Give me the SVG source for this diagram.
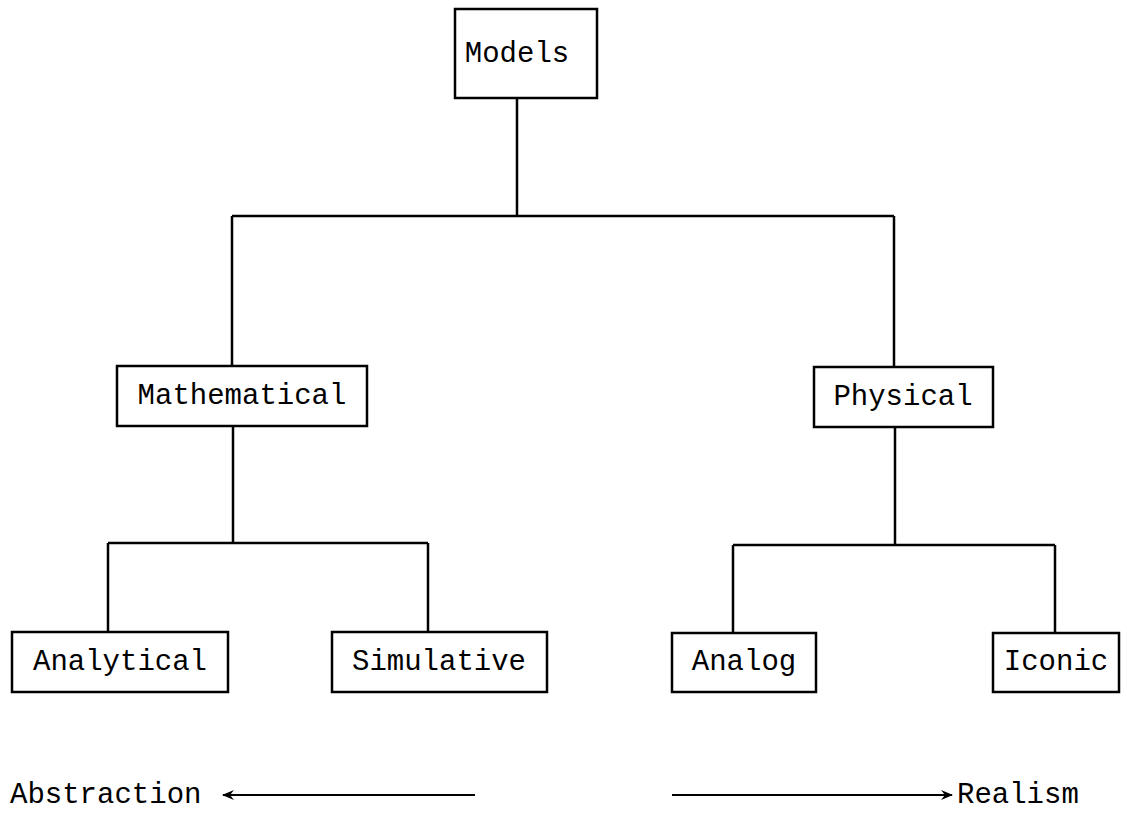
<svg xmlns="http://www.w3.org/2000/svg" width="1127" height="814" viewBox="0 0 1127 814">
<defs>
<style>
.box{fill:#fff;stroke:#000;stroke-width:2.5}
.t{font-family:"Liberation Mono","Courier New",monospace;font-size:29px;fill:#000;text-anchor:middle}
.lb{font-family:"Liberation Mono","Courier New",monospace;font-size:29px;fill:#000}
.c{fill:none;stroke:#000;stroke-width:2.5}
.a{fill:none;stroke:#000;stroke-width:1.8}
</style>
<marker id="ah" viewBox="0 0 12 10" refX="11" refY="5" markerWidth="12" markerHeight="10" markerUnits="userSpaceOnUse" orient="auto">
<path d="M0,0 L12,5 L0,10 L4,5 Z" fill="#000"/>
</marker>
</defs>
<g id="connectors">
<path class="c" d="M517,98 V216 M232,216 H894 M232,216 V366 M894,216 V367"/>
<path class="c" d="M233,426 V543 M108,543 H428 M108,543 V632 M428,543 V632"/>
<path class="c" d="M895,427 V545 M733,545 H1055 M733,545 V633 M1055,545 V633"/>
</g>
<g id="models"><rect class="box" x="455" y="9" width="142" height="89"/><text class="t" x="517" y="62">Models</text></g>
<g id="mathematical"><rect class="box" x="117" y="366" width="250" height="60"/><text class="t" x="242" y="404">Mathematical</text></g>
<g id="physical"><rect class="box" x="814" y="367" width="179" height="60"/><text class="t" x="903" y="405">Physical</text></g>
<g id="analytical"><rect class="box" x="12" y="632" width="216" height="60"/><text class="t" x="120" y="670">Analytical</text></g>
<g id="simulative"><rect class="box" x="332" y="632" width="215" height="60"/><text class="t" x="439" y="670">Simulative</text></g>
<g id="analog"><rect class="box" x="672" y="633" width="144" height="59"/><text class="t" x="744" y="670">Analog</text></g>
<g id="iconic"><rect class="box" x="993" y="633" width="126" height="59"/><text class="t" x="1056" y="670">Iconic</text></g>
<g id="scale">
<text class="lb" x="10" y="803">Abstraction</text>
<line class="a" x1="475" y1="795" x2="223" y2="795" marker-end="url(#ah)"/>
<line class="a" x1="672" y1="795" x2="952" y2="795" marker-end="url(#ah)"/>
<text class="lb" x="957" y="803">Realism</text>
</g>
</svg>
